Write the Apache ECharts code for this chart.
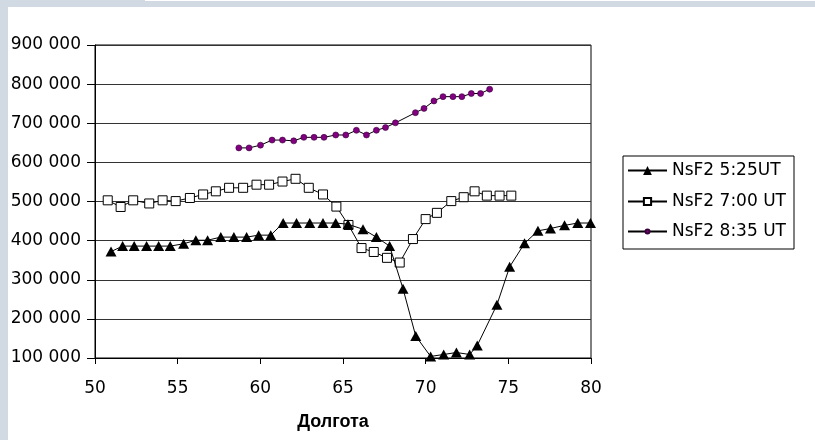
<!DOCTYPE html>
<html>
<head>
<meta charset="utf-8">
<title>NsF2</title>
<script src="https://cdn.jsdelivr.net/npm/echarts@6/dist/echarts.min.js"></script>
<style>
  html, body { margin: 0; padding: 0; background: #fff; }
  #chart { width: 815px; height: 440px; }
</style>
</head>
<body>
<div id="chart"></div>
<script>
// NsF2 5:25UT (triangles)
const lon525 = [50.97, 51.67, 52.37, 53.12, 53.85, 54.55, 55.36, 56.1, 56.81, 57.61, 58.4, 59.17, 59.9, 60.63,
  61.38, 62.19, 62.99, 63.79, 64.56, 65.3, 66.21, 67.02, 67.82, 68.63, 69.4, 70.3, 71.09, 71.86, 72.66, 73.12,
  74.31, 75.08, 75.98, 76.79, 77.55, 78.4, 79.2, 79.97]
const val525 = [372000, 386000, 386000, 386000, 386000, 386000, 392000, 401000, 401000, 409000, 409000, 409000, 414000, 414000,
  445000, 445000, 445000, 445000, 445000, 442000, 429000, 409000, 386000, 277000, 156000, 104000, 109000, 114000, 109000, 132000,
  236000, 333000, 393000, 425000, 431000, 439000, 445000, 445000]

// NsF2 7:00 UT (squares)
const lon700 = [50.77, 51.55, 52.31, 53.28, 54.09, 54.88, 55.74, 56.54, 57.31, 58.11, 58.96, 59.77, 60.53,
  61.34, 62.13, 62.93, 63.79, 64.6, 65.33, 66.12, 66.86, 67.66, 68.43, 69.23, 70.0, 70.68, 71.55, 72.3,
  72.96, 73.7, 74.47, 75.18]
const val700 = [503000, 486000, 503000, 495000, 503000, 501000, 509000, 518000, 526000, 535000, 535000, 543000, 543000,
  551000, 558000, 535000, 518000, 487000, 440000, 381000, 371000, 356000, 344000, 404000, 455000, 471000, 501000, 511000,
  526000, 515000, 515000, 515000]

// NsF2 8:35 UT (purple dots)
const lon835 = [58.7, 59.32, 60.01, 60.71, 61.34, 62.02, 62.63, 63.25, 63.85, 64.56, 65.17, 65.81, 66.42,
  67.02, 67.57, 68.17, 69.38, 69.9, 70.5, 71.05, 71.65, 72.19, 72.76, 73.32, 73.87]
const val835 = [637000, 637000, 644000, 657000, 657000, 655000, 664000, 664000, 664000, 670000, 670000, 682000, 670000,
  682000, 689000, 701000, 727000, 738000, 757000, 768000, 768000, 768000, 776000, 776000, 787000]

const seriesNames = ['NsF2 5:25UT', 'NsF2 7:00 UT', 'NsF2 8:35 UT']
const xTicks = { min: 50, max: 80, step: 5 }
const yTicks = { min: 100000, max: 900000, step: 100000 }
const xName = 'Долгота'

const FONT = '"DejaVu Sans", sans-serif'
const TITLE_FONT = '"Liberation Sans", Arial, sans-serif'

function zip (xs, ys) {
  return xs.map((x, i) => [x, ys[i]])
}

function spaced (v) {
  return String(v).replace(/\B(?=(\d{3})+(?!\d))/g, ' ')
}

// одна легенда на серию, чтобы у каждой был свой размер значка
function legendRow (name, top, iconH) {
  return {
    orient: 'vertical',
    left: 627,
    top: top,
    padding: 0,
    itemWidth: 39,
    itemHeight: iconH,
    textStyle: { fontSize: 17, color: '#000', fontFamily: FONT },
    data: [name]
  }
}

const myChart = echarts.init(document.getElementById('chart'), null, { renderer: 'canvas' })

const option = {
  animation: false,
  backgroundColor: '#fff',
  textStyle: { fontFamily: FONT },
  graphic: [
    // светлая рамка слева и сверху
    { type: 'rect', left: 0, top: 0, shape: { width: 8, height: 440 }, style: { fill: '#d1dae2' }, silent: true },
    { type: 'rect', left: 0, top: 0, shape: { width: 145, height: 7 }, style: { fill: '#d1dae2' }, silent: true },
    { type: 'rect', left: 145, top: 1, shape: { width: 670, height: 6 }, style: { fill: '#d1dae2' }, silent: true },
    // рамка легенды
    { type: 'rect', left: 620.5, top: 153.5, shape: { width: 171, height: 93 }, style: { fill: 'none', stroke: '#000', lineWidth: 1 }, silent: true }
  ],
  grid: {
    left: 95,
    top: 45,
    width: 496,
    height: 313,
    show: true,
    borderColor: '#000',
    borderWidth: 1
  },
  legend: [
    legendRow(seriesNames[0], 162, 11),
    legendRow(seriesNames[1], 193, 9),
    legendRow(seriesNames[2], 223, 5)
  ],
  xAxis: {
    type: 'value',
    min: xTicks.min,
    max: xTicks.max,
    interval: xTicks.step,
    name: xName,
    nameLocation: 'middle',
    nameGap: 55,
    nameTextStyle: { fontSize: 18, fontWeight: 'bold', color: '#000', fontFamily: TITLE_FONT, padding: [0, 20, 0, 0] },
    axisLine: { lineStyle: { color: '#000', width: 1 } },
    axisTick: { show: true, inside: false, length: 6, lineStyle: { color: '#000' } },
    axisLabel: { fontSize: 17, color: '#000', margin: 22 },
    splitLine: { show: false }
  },
  yAxis: {
    type: 'value',
    min: yTicks.min,
    max: yTicks.max,
    interval: yTicks.step,
    axisLine: { show: true, lineStyle: { color: '#000', width: 1 } },
    axisTick: { show: true, inside: false, length: 8, lineStyle: { color: '#000' } },
    axisLabel: { fontSize: 17, color: '#000', margin: 14, formatter: spaced },
    splitLine: { show: true, lineStyle: { color: '#333', width: 1 } }
  },
  series: [
    {
      name: seriesNames[0],
      type: 'line',
      data: zip(lon525, val525),
      symbol: 'triangle',
      symbolSize: [11, 10],
      lineStyle: { color: '#000', width: 1 },
      itemStyle: { color: '#000', borderColor: '#000', borderWidth: 0 },
      z: 3
    },
    {
      name: seriesNames[1],
      type: 'line',
      data: zip(lon700, val700),
      symbol: 'rect',
      symbolSize: 9,
      lineStyle: { color: '#000', width: 1 },
      itemStyle: { color: '#fff', borderColor: '#000', borderWidth: 1 },
      z: 2
    },
    {
      name: seriesNames[2],
      type: 'line',
      data: zip(lon835, val835),
      symbol: 'circle',
      symbolSize: 6,
      lineStyle: { color: '#000', width: 1 },
      itemStyle: { color: '#800080', borderColor: '#3a003a', borderWidth: 0.6 },
      z: 2
    }
  ]
}

myChart.setOption(option)
</script>
</body>
</html>
